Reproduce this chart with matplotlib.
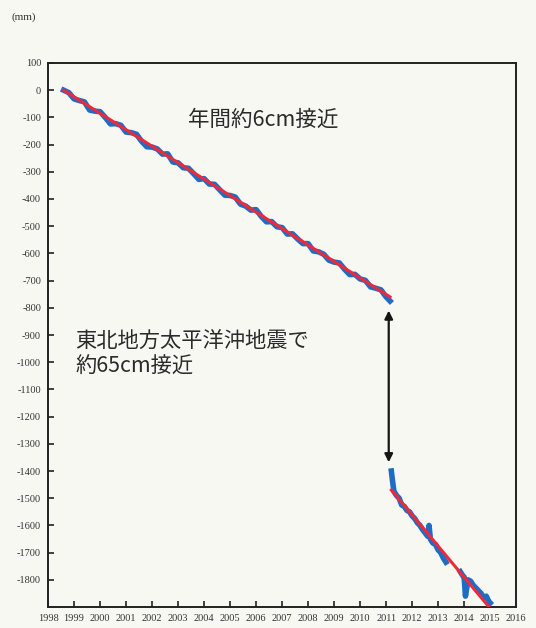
import numpy as np
import matplotlib.pyplot as plt

plt.rcParams['font.family'] = ['Noto Sans CJK JP', 'DejaVu Sans']

# GPS baseline change (mm), before the 2011 earthquake
pre_t = [1998.6, 1998.8, 1999.0, 1999.2, 1999.4, 1999.6, 1999.8, 2000.0, 2000.2, 2000.4,
         2000.6, 2000.8, 2001.0, 2001.2, 2001.4, 2001.6, 2001.8, 2002.0, 2002.2, 2002.4,
         2002.6, 2002.8, 2003.0, 2003.2, 2003.4, 2003.6, 2003.8, 2004.0, 2004.2, 2004.4,
         2004.6, 2004.8, 2005.0, 2005.2, 2005.4, 2005.6, 2005.8, 2006.0, 2006.2, 2006.4,
         2006.6, 2006.8, 2007.0, 2007.2, 2007.4, 2007.6, 2007.8, 2008.0, 2008.2, 2008.4,
         2008.6, 2008.8, 2009.0, 2009.2, 2009.4, 2009.6, 2009.8, 2010.0, 2010.2, 2010.4,
         2010.6, 2010.8, 2011.0, 2011.15]
pre_v = [0, -9, -32, -38, -43, -73, -77, -79, -100, -124,
         -123, -129, -154, -156, -162, -188, -208, -209, -216, -235,
         -234, -264, -267, -285, -287, -307, -328, -325, -345, -346,
         -366, -386, -387, -393, -419, -426, -441, -439, -464, -484,
         -483, -502, -505, -529, -528, -547, -564, -564, -591, -594,
         -603, -625, -632, -635, -658, -678, -677, -694, -699, -723,
         -728, -734, -760, -775]

# after the earthquake (gap = nan)
post_t = [2011.2, 2011.25, 2011.3, 2011.4, 2011.5, 2011.6, 2011.7, 2011.8, 2011.9, 2012.0,
          2012.1, 2012.2, 2012.3, 2012.4, 2012.6, 2012.65, 2012.7, 2012.8, 2012.9, 2013.0,
          2013.1, 2013.2, 2013.3, 2013.5, 2013.85, 2013.95, 2014.0, 2014.05, 2014.15, 2014.25,
          2014.35, 2014.45, 2014.55, 2014.65, 2014.75, 2014.85, 2014.95, 2015.0]
post_v = [-1400, -1440, -1475, -1490, -1500, -1525, -1530, -1545, -1550, -1565,
          -1575, -1590, -1600, -1615, -1640, -1600, -1650, -1665, -1670, -1690,
          -1700, -1720, -1735, np.nan, -1770, -1785, -1790, -1860, -1800, -1805,
          -1820, -1830, -1840, -1850, -1865, -1860, -1880, -1885]

# linear trends (red)
trend1_t = [1998.6, 2011.15]
trend1_v = [0, -760]
trend2_t = [2011.2, 2015.0]
trend2_v = [-1470, -1905]

arrow_x = 2011.1
arrow_top = -810
arrow_bottom = -1368

years = list(range(1998, 2017))
yticks = list(range(-1800, 101, 100))

bg = '#f8f8f3'
fig = plt.figure(figsize=(5.36, 6.28), dpi=100, facecolor=bg)
ax = fig.add_axes([0.0896, 0.0334, 0.8734, 0.8663], facecolor=bg)

ax.plot(pre_t, pre_v, color='#1f6cc4', lw=4, solid_joinstyle='round', zorder=2)
ax.plot(post_t, post_v, color='#1f6cc4', lw=4, solid_joinstyle='round', zorder=2)
ax.plot(trend1_t, trend1_v, color='#ee2a3a', lw=2.2, zorder=3)
ax.plot(trend2_t, trend2_v, color='#ee2a3a', lw=2.2, zorder=3)

ax.annotate('', xy=(arrow_x, arrow_top), xytext=(arrow_x, arrow_bottom),
            arrowprops=dict(arrowstyle='<|-|>', color='#151515', lw=1.6,
                            mutation_scale=12, shrinkA=0, shrinkB=0))

ax.text(2003.4, -107, '年間約6cm接近', fontsize=15.5, color='#2a2a2a',
        va='center', ha='left')
ax.text(1999.05, -923, '東北地方太平洋沖地震で', fontsize=15.3, color='#2a2a2a',
        va='center', ha='left')
ax.text(1999.05, -1015, '約65cm接近', fontsize=15.3, color='#2a2a2a',
        va='center', ha='left')

ax.set_xlim(1998, 2016)
ax.set_ylim(-1900, 100)
ax.set_xticks(years)
ax.set_xticklabels([str(y) for y in years], family='Liberation Serif', fontsize=7.5)
ax.set_yticks(yticks)
ax.set_yticklabels([str(v) for v in yticks], family='Liberation Serif', fontsize=7.5)
ax.tick_params(direction='in', length=4, width=1.2, color='#222222', pad=5,
               labelcolor='#333333')
for s in ax.spines.values():
    s.set_linewidth(1.4)
    s.set_color('#222222')

fig.text(0.022, 0.972, '(mm)', family='Liberation Serif', fontsize=8, color='#333333',
         va='center', ha='left')

fig.savefig('out.png', dpi=100, facecolor=bg)
